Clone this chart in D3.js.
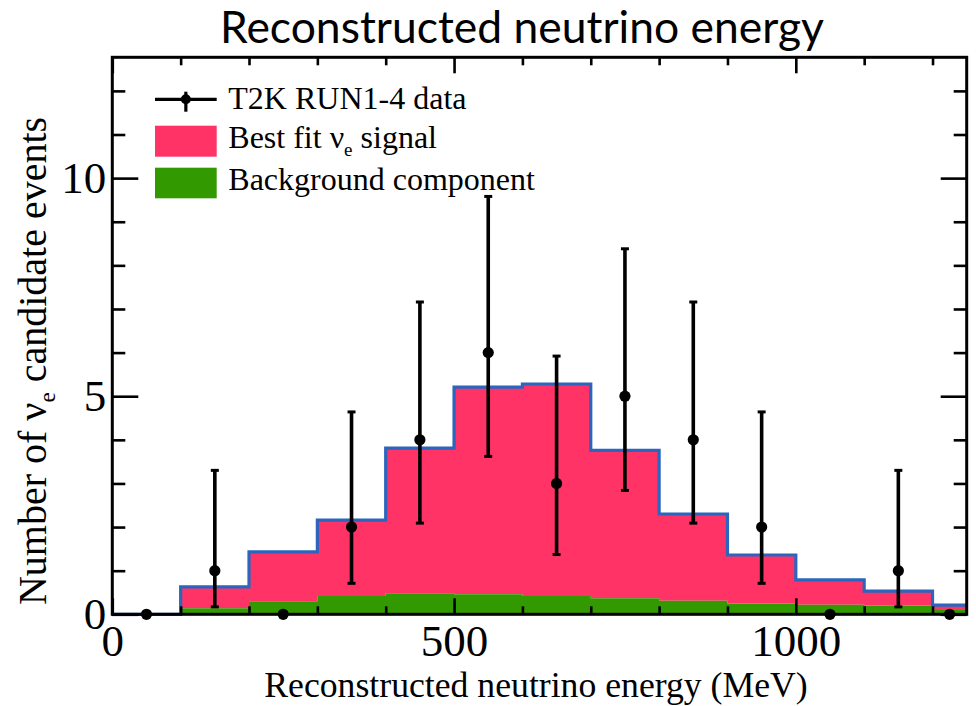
<!DOCTYPE html>
<html>
<head>
<meta charset="utf-8">
<script src="https://cdn.jsdelivr.net/npm/d3@7"></script>
<style>
  html, body { margin: 0; padding: 0; background: #ffffff; }
  svg { display: block; }
</style>
</head>
<body>
<svg id="chart" width="976" height="706"></svg>
<script>
// Histogram bin edges (MeV) and the stacked prediction per bin
const binEdges = [0, 100, 200, 300, 400, 500, 600, 700, 800, 900, 1000, 1100, 1200, 1250];
const predictedTotal = [0, 0.63, 1.43, 2.16, 3.81, 5.21, 5.28, 3.76, 2.30, 1.36, 0.79, 0.53, 0.21];
const backgroundComponent = [0, 0.14, 0.30, 0.42, 0.48, 0.46, 0.42, 0.37, 0.31, 0.25, 0.22, 0.20, 0.10];

// Observed candidate events with asymmetric error bars
const dataEnergy = [50, 150, 250, 350, 450, 550, 650, 750, 850, 950, 1050, 1150, 1225];
const dataCounts = [0, 1, 0, 2, 4, 6, 3, 5, 4, 2, 0, 1, 0];
const dataErrLow = [0, 0.17, 0, 0.71, 2.09, 3.62, 1.37, 2.84, 2.09, 0.71, 0, 0.17, 0];
const dataErrHigh = [0, 3.30, 0, 4.64, 7.16, 9.58, 5.92, 8.38, 7.16, 4.64, 0, 3.30, 0];

// Axis ticks
const xMajorTicks = [0, 500, 1000];
const xTickLabels = ["0", "500", "1000"];
const yMajorTicks = [0, 5, 10];
const yTickLabels = ["0", "5", "10"];

const legendLabels = ["T2K RUN1-4 data", "Best fit ν", "Background component"];

const colSignal = "#ff3366";
const colBackground = "#339900";
const colOutline = "#2b65bd";

const svg = d3.select("#chart");
const plot = { left: 112.3, right: 966.7, top: 57.3, bottom: 614.3 };

const x = d3.scaleLinear().domain([0, 1250]).range([plot.left, plot.right]);
const y = d3.scaleLinear().domain([0, 12.77]).range([plot.bottom, plot.top]);

const serif = "'Liberation Serif', 'Times New Roman', serif";

// ---- Title ----
const title = svg.append("text")
  .attr("x", 522).attr("y", 43.4)
  .attr("text-anchor", "middle")
  .style("font-family", "Lato, 'Open Sans', sans-serif")
  .style("font-size", "40px")
  .attr("fill", "#000")
  .text("Reconstructed neutrino energy");
{
  const len = title.node().getComputedTextLength();
  title.style("font-size", (40 * 604 / len).toFixed(2) + "px");
}

// ---- Stacked histogram ----
const bins = binEdges.slice(0, -1).map((e, i) => ({
  e, tot: predictedTotal[i], bg: backgroundComponent[i]
}));
bins.push({ e: binEdges[binEdges.length - 1], tot: predictedTotal[predictedTotal.length - 1], bg: backgroundComponent[backgroundComponent.length - 1] });

svg.append("path")
  .datum(bins)
  .attr("fill", colSignal)
  .attr("d", d3.area().curve(d3.curveStepAfter)
    .x(d => x(d.e)).y0(d => y(d.bg)).y1(d => y(d.tot)));

svg.append("path")
  .datum(bins)
  .attr("fill", colBackground)
  .attr("d", d3.area().curve(d3.curveStepAfter)
    .x(d => x(d.e)).y0(y(0)).y1(d => y(d.bg)));

svg.append("path")
  .datum(bins)
  .attr("fill", "none")
  .attr("stroke", colOutline)
  .attr("stroke-width", 3.2)
  .attr("d", d3.line().curve(d3.curveStepAfter)
    .x(d => x(d.e)).y(d => y(d.tot)));

// ---- Axes (inward ticks on all four sides) ----
function styleAxis(g) {
  g.select(".domain").remove();
  g.selectAll(".tick line").attr("stroke", "#000").attr("stroke-width", 2.6);
  g.selectAll(".tick text")
    .style("font-family", serif)
    .style("font-size", "45px")
    .attr("fill", "#000");
}

const xMinor = d3.range(0, 1251, 100).filter(v => !xMajorTicks.includes(v));
const yMinor = d3.range(0, 13, 1).filter(v => !yMajorTicks.includes(v));

// bottom
svg.append("g").attr("transform", `translate(0,${plot.bottom})`)
  .call(d3.axisBottom(x).tickValues(xMinor).tickSize(-8).tickFormat(""))
  .call(styleAxis);
svg.append("g").attr("transform", `translate(0,${plot.bottom})`)
  .call(d3.axisBottom(x).tickValues(xMajorTicks).tickSize(-16).tickPadding(10)
    .tickFormat((d, i) => xTickLabels[i]))
  .call(styleAxis);
// top
svg.append("g").attr("transform", `translate(0,${plot.top})`)
  .call(d3.axisTop(x).tickValues(xMinor).tickSize(-8).tickFormat(""))
  .call(styleAxis);
svg.append("g").attr("transform", `translate(0,${plot.top})`)
  .call(d3.axisTop(x).tickValues(xMajorTicks).tickSize(-16).tickFormat(""))
  .call(styleAxis);
// left
svg.append("g").attr("transform", `translate(${plot.left},0)`)
  .call(d3.axisLeft(y).tickValues(yMinor).tickSize(-13).tickFormat(""))
  .call(styleAxis);
svg.append("g").attr("transform", `translate(${plot.left},0)`)
  .call(d3.axisLeft(y).tickValues(yMajorTicks).tickSize(-26).tickPadding(6)
    .tickFormat((d, i) => yTickLabels[i]))
  .call(styleAxis);
// right
svg.append("g").attr("transform", `translate(${plot.right},0)`)
  .call(d3.axisRight(y).tickValues(yMinor).tickSize(-13).tickFormat(""))
  .call(styleAxis);
svg.append("g").attr("transform", `translate(${plot.right},0)`)
  .call(d3.axisRight(y).tickValues(yMajorTicks).tickSize(-26).tickFormat(""))
  .call(styleAxis);

// frame
svg.append("rect")
  .attr("x", plot.left).attr("y", plot.top)
  .attr("width", plot.right - plot.left).attr("height", plot.bottom - plot.top)
  .attr("fill", "none").attr("stroke", "#000").attr("stroke-width", 3);

// ---- Data points with error bars ----
const pts = dataEnergy.map((e, i) => ({
  e, n: dataCounts[i], lo: dataErrLow[i], hi: dataErrHigh[i]
}));
const gData = svg.append("g");
const withErr = pts.filter(d => d.hi > d.n);
gData.selectAll("line.err").data(withErr).join("line")
  .attr("class", "err")
  .attr("x1", d => x(d.e)).attr("x2", d => x(d.e))
  .attr("y1", d => y(d.lo)).attr("y2", d => y(d.hi))
  .attr("stroke", "#000").attr("stroke-width", 3.6);
gData.selectAll("line.capHi").data(withErr).join("line")
  .attr("class", "capHi")
  .attr("x1", d => x(d.e) - 4).attr("x2", d => x(d.e) + 4)
  .attr("y1", d => y(d.hi)).attr("y2", d => y(d.hi))
  .attr("stroke", "#000").attr("stroke-width", 3);
gData.selectAll("line.capLo").data(withErr).join("line")
  .attr("class", "capLo")
  .attr("x1", d => x(d.e) - 4).attr("x2", d => x(d.e) + 4)
  .attr("y1", d => y(d.lo)).attr("y2", d => y(d.lo))
  .attr("stroke", "#000").attr("stroke-width", 3);
gData.selectAll("circle").data(pts).join("circle")
  .attr("cx", d => x(d.e)).attr("cy", d => y(d.n))
  .attr("r", 5.6).attr("fill", "#000");

// ---- Axis titles ----
svg.append("text")
  .attr("x", 536).attr("y", 696.7)
  .attr("text-anchor", "middle")
  .style("font-family", serif).style("font-size", "35.7px")
  .attr("fill", "#000")
  .text("Reconstructed neutrino energy (MeV)");

const yTitle = svg.append("text")
  .attr("transform", "translate(46,361) rotate(-90)")
  .attr("text-anchor", "middle")
  .style("font-family", serif).style("font-size", "40px")
  .attr("fill", "#000");
yTitle.append("tspan").text("Number of ν");
yTitle.append("tspan").attr("dy", 9).style("font-size", "23px").text("e");
yTitle.append("tspan").attr("dy", -9).text(" candidate events");

// ---- Legend ----
const leg = svg.append("g");
const lx0 = 155, lx1 = 216.7, ltx = 228.3;
// data marker
leg.append("line").attr("x1", lx0).attr("x2", lx1).attr("y1", 99.3).attr("y2", 99.3)
  .attr("stroke", "#000").attr("stroke-width", 3.2);
leg.append("line").attr("x1", (lx0 + lx1) / 2).attr("x2", (lx0 + lx1) / 2)
  .attr("y1", 91.7).attr("y2", 111.7)
  .attr("stroke", "#000").attr("stroke-width", 3.2);
leg.append("circle").attr("cx", (lx0 + lx1) / 2).attr("cy", 99.3).attr("r", 5)
  .attr("fill", "#000");
leg.append("rect").attr("x", lx0).attr("y", 125.7).attr("width", lx1 - lx0).attr("height", 31)
  .attr("fill", colSignal);
leg.append("rect").attr("x", lx0).attr("y", 167.7).attr("width", lx1 - lx0).attr("height", 30.6)
  .attr("fill", colBackground);

const legText = (yy) => leg.append("text").attr("x", ltx).attr("y", yy)
  .style("font-family", serif).style("font-size", "32px").attr("fill", "#000");
legText(109.3).text(legendLabels[0]);
const t2 = legText(148.3);
t2.append("tspan").text(legendLabels[1]);
t2.append("tspan").attr("dy", 8).style("font-size", "19px").text("e");
t2.append("tspan").attr("dy", -8).text(" signal");
legText(190).text(legendLabels[2]);
</script>
</body>
</html>
